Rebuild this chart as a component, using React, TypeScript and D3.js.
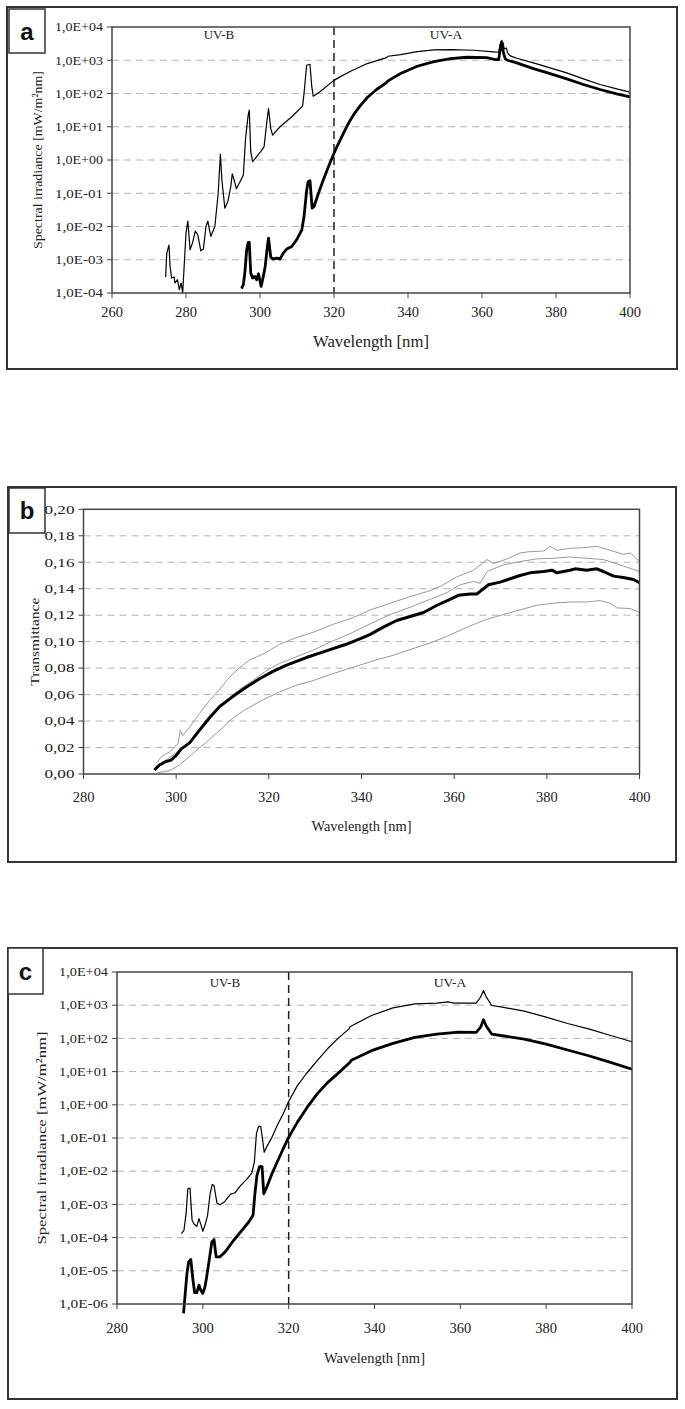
import React from 'react';
import * as d3 from 'd3';

const serif = '"Liberation Serif", "Times New Roman", serif';
const sans = '"Liberation Sans", Arial, sans-serif';

type Pt = [number, number];

// wavelength axis ticks
const ticksA = [260, 280, 300, 320, 340, 360, 380, 400];
const ticksBC = [280, 300, 320, 340, 360, 380, 400];
// decades (log10) shown on the irradiance axes
const decadesA = [-4, -3, -2, -1, 0, 1, 2, 3, 4];
const decadesC = [-6, -5, -4, -3, -2, -1, 0, 1, 2, 3, 4];
const transTicks = [0, 0.02, 0.04, 0.06, 0.08, 0.1, 0.12, 0.14, 0.16, 0.18, 0.2];

// panel a: [wavelength nm, log10 irradiance mW/m2nm]
const aThin: Pt[] = [
  [274.5, -3.52], [274.8, -2.8], [275.4, -2.56], [275.7, -3.2], [276.1, -3.55], [276.8, -3.52],
  [277.0, -3.7], [277.7, -3.6], [278.2, -3.9], [278.7, -3.7], [279.1, -4.0], [280.0, -2.2],
  [280.5, -1.84], [281.1, -2.7], [281.8, -2.48], [282.5, -2.14], [283.2, -2.25], [284.0, -2.73],
  [284.7, -2.68], [285.4, -2.0], [285.9, -1.84], [286.7, -2.3], [287.8, -2.0], [288.7, -1.0],
  [289.3, 0.18], [289.7, -0.6], [290.5, -1.45], [291.3, -1.25], [292.1, -0.8], [292.5, -0.42],
  [293.1, -0.64], [293.6, -0.86], [294.4, -0.7], [295.5, -0.45], [296.1, 0.65], [296.8, 1.35],
  [297.1, 1.5], [297.5, 0.25], [298.0, -0.05], [299.1, 0.1], [300.4, 0.28], [301.1, 0.4],
  [301.8, 1.1], [302.3, 1.55], [302.9, 0.95], [303.4, 0.75], [305.4, 1.0], [308.6, 1.3],
  [311.5, 1.62], [311.9, 2.0], [312.6, 2.85], [313.5, 2.88], [314.0, 2.2], [314.4, 1.92],
  [316.2, 2.05], [319.8, 2.38], [321.6, 2.5], [324.5, 2.67], [329.0, 2.9], [334.2, 3.08],
  [334.6, 3.12], [338.0, 3.17], [342.5, 3.26], [347.0, 3.31], [351.5, 3.32], [357.8, 3.3],
  [363.1, 3.25], [364.5, 3.24], [364.9, 3.47], [365.3, 3.6], [365.7, 3.52], [366.0, 3.34],
  [366.6, 3.37], [366.9, 3.22], [367.5, 3.14], [369.4, 3.06], [373.9, 2.92], [378.4, 2.77],
  [382.9, 2.62], [387.4, 2.44], [391.9, 2.27], [396.4, 2.14], [400.0, 2.04],
];
const aThick: Pt[] = [
  [295.0, -3.87], [295.5, -3.75], [295.9, -3.4], [296.4, -2.7], [296.8, -2.48], [297.1, -2.48],
  [297.5, -3.4], [298.0, -3.55], [298.6, -3.5], [299.1, -3.6], [299.6, -3.42], [300.3, -3.8],
  [300.9, -3.5], [301.4, -3.2], [302.0, -2.6], [302.3, -2.35], [302.9, -2.92], [303.6, -2.98],
  [304.5, -2.95], [305.4, -2.98], [306.3, -2.8], [307.2, -2.68], [308.6, -2.6], [309.9, -2.4],
  [311.3, -2.1], [311.9, -1.7], [312.6, -0.92], [313.0, -0.65], [313.5, -0.62], [314.1, -1.45],
  [314.6, -1.4], [315.8, -1.0], [317.1, -0.6], [318.5, -0.2], [319.8, 0.15], [321.0, 0.45],
  [322.7, 0.84], [324.0, 1.12], [325.4, 1.38], [327.0, 1.62], [329.0, 1.88], [331.5, 2.12],
  [334.2, 2.33], [334.6, 2.38], [338.0, 2.6], [342.5, 2.82], [347.0, 2.96], [351.5, 3.05],
  [356.0, 3.09], [361.3, 3.08], [363.6, 3.02], [364.5, 3.02], [364.9, 3.32], [365.3, 3.54],
  [365.8, 3.22], [366.3, 3.04], [366.9, 3.0], [369.4, 2.92], [373.9, 2.75], [378.4, 2.6],
  [382.9, 2.44], [387.4, 2.27], [391.9, 2.12], [396.4, 1.99], [400.0, 1.9],
];

// panel b: [wavelength nm, transmittance]
const bMean: Pt[] = [
  [295.3, 0.003], [296.4, 0.0068], [297.7, 0.0093], [298.9, 0.0105], [300.0, 0.014], [301.1, 0.019],
  [302.9, 0.0235], [305.0, 0.033], [307.2, 0.0425], [309.4, 0.051], [312.2, 0.0585], [315.1, 0.0655],
  [318.0, 0.072], [320.9, 0.0775], [323.7, 0.082], [328.1, 0.088], [332.4, 0.093], [336.7, 0.098],
  [340.3, 0.103], [341.9, 0.1055], [344.7, 0.111], [347.6, 0.116], [350.5, 0.119], [353.4, 0.122],
  [356.3, 0.1275], [359.1, 0.132], [360.9, 0.135], [363.5, 0.136], [364.9, 0.136], [365.6, 0.138],
  [367.4, 0.143], [369.9, 0.145], [372.1, 0.1475], [374.2, 0.15], [376.4, 0.152], [379.3, 0.153],
  [381.1, 0.154], [382.2, 0.152], [385.0, 0.154], [386.1, 0.155], [388.6, 0.154], [390.8, 0.155],
  [392.2, 0.153], [394.4, 0.1495], [396.5, 0.1485], [398.7, 0.147], [400.0, 0.1445],
];
const bUpper: Pt[] = [
  [295.7, 0.008], [296.8, 0.013], [298.6, 0.0168], [300.4, 0.023], [300.9, 0.033], [301.4, 0.029],
  [302.9, 0.0355], [305.0, 0.0455], [307.2, 0.0555], [309.4, 0.064], [311.5, 0.073], [313.7, 0.0805],
  [315.8, 0.086], [318.7, 0.0905], [322.3, 0.098], [325.9, 0.103], [329.5, 0.107], [333.8, 0.113],
  [338.1, 0.118], [341.9, 0.124], [346.2, 0.129], [350.5, 0.134], [354.8, 0.1385], [357.7, 0.143],
  [360.6, 0.149], [364.2, 0.154], [367.1, 0.162], [368.5, 0.159], [371.4, 0.1625], [374.2, 0.167],
  [376.4, 0.168], [379.3, 0.1685], [380.7, 0.172], [382.2, 0.169], [385.0, 0.1705], [387.9, 0.171],
  [390.8, 0.172], [393.7, 0.169], [396.5, 0.166], [398.0, 0.167], [400.0, 0.1605],
];
const bMid: Pt[] = [
  [295.5, 0.0055], [297.8, 0.0105], [300.7, 0.018], [302.9, 0.024], [305.0, 0.034], [307.9, 0.0455],
  [310.8, 0.0555], [313.7, 0.064], [316.5, 0.0705], [319.4, 0.078], [322.3, 0.0835], [325.9, 0.0885],
  [329.5, 0.0935], [333.8, 0.1005], [338.1, 0.107], [341.9, 0.1135], [346.2, 0.1205], [350.5, 0.126],
  [354.8, 0.132], [358.4, 0.137], [361.3, 0.143], [364.2, 0.1455], [365.6, 0.144], [367.1, 0.153],
  [370.6, 0.158], [374.2, 0.1605], [377.8, 0.1625], [381.4, 0.163], [385.0, 0.164], [388.6, 0.163],
  [392.2, 0.162], [395.8, 0.158], [400.0, 0.153],
];
const bLower: Pt[] = [
  [296.0, 0.001], [298.6, 0.0025], [300.7, 0.0068], [303.6, 0.0155], [306.5, 0.024], [309.4, 0.033],
  [312.2, 0.042], [315.1, 0.049], [318.7, 0.056], [322.3, 0.062], [325.9, 0.067], [329.5, 0.0705],
  [333.1, 0.075], [336.7, 0.079], [340.3, 0.083], [343.9, 0.087], [346.2, 0.089], [350.5, 0.094],
  [354.8, 0.099], [358.4, 0.104], [363.5, 0.112], [367.1, 0.117], [370.6, 0.1205], [374.2, 0.124],
  [377.8, 0.1275], [381.4, 0.129], [385.0, 0.13], [388.6, 0.13], [391.5, 0.131], [393.7, 0.129],
  [395.1, 0.1255], [398.0, 0.125], [400.0, 0.122],
];

// panel c: [wavelength nm, log10 irradiance mW/m2nm]
const cThin: Pt[] = [
  [295.0, -3.88], [295.6, -3.78], [296.1, -3.28], [296.5, -2.53], [297.0, -2.51], [297.5, -3.48],
  [298.0, -3.6], [298.6, -3.66], [299.1, -3.43], [299.6, -3.63], [300.0, -3.81], [300.5, -3.63],
  [301.1, -3.33], [301.7, -2.68], [302.2, -2.4], [302.6, -2.43], [303.3, -2.96], [304.0, -3.01],
  [305.0, -2.93], [306.4, -2.7], [307.5, -2.65], [308.7, -2.45], [310.3, -2.23], [311.4, -2.06],
  [312.0, -1.73], [312.5, -0.86], [313.0, -0.65], [313.5, -0.65], [313.9, -1.03], [314.3, -1.43],
  [314.9, -1.26], [316.1, -0.98], [317.3, -0.63], [318.7, -0.28], [320.0, 0.1], [322.0, 0.57],
  [324.0, 0.92], [326.6, 1.32], [329.0, 1.68], [331.5, 2.0], [334.0, 2.28], [334.3, 2.35],
  [339.3, 2.69], [344.3, 2.92], [349.4, 3.04], [354.5, 3.06], [357.1, 3.1], [358.6, 3.06],
  [363.7, 3.06], [364.7, 3.24], [365.4, 3.44], [366.0, 3.26], [367.3, 2.99], [369.8, 2.94],
  [374.9, 2.82], [380.0, 2.64], [385.0, 2.45], [390.1, 2.28], [395.2, 2.08], [400.0, 1.9],
];
const cThick: Pt[] = [
  [295.5, -6.28], [295.9, -5.68], [296.3, -5.08], [296.7, -4.73], [297.2, -4.66], [297.7, -5.28],
  [298.1, -5.66], [298.6, -5.66], [299.1, -5.43], [299.5, -5.58], [300.0, -5.68], [300.5, -5.48],
  [300.9, -5.18], [301.6, -4.58], [302.1, -4.13], [302.6, -4.06], [303.1, -4.58], [304.0, -4.58],
  [305.2, -4.43], [307.2, -4.08], [309.1, -3.78], [310.7, -3.53], [311.7, -3.33], [312.1, -2.73],
  [312.6, -2.13], [313.2, -1.86], [313.8, -1.86], [314.2, -2.68], [314.9, -2.48], [316.1, -2.08],
  [317.3, -1.73], [318.7, -1.33], [320.0, -0.98], [322.0, -0.53], [324.3, -0.08], [326.6, 0.32],
  [329.0, 0.66], [331.7, 0.97], [334.3, 1.28], [334.6, 1.34], [339.3, 1.63], [344.3, 1.85],
  [349.4, 2.03], [354.5, 2.13], [359.6, 2.19], [363.7, 2.18], [364.7, 2.33], [365.4, 2.56],
  [366.0, 2.38], [367.3, 2.13], [369.8, 2.08], [374.9, 1.98], [380.0, 1.83], [385.0, 1.65],
  [390.1, 1.47], [395.2, 1.27], [400.0, 1.07],
];

const expLabel = (e: number) => `1,0E${e < 0 ? '-' : '+'}${String(Math.abs(e)).padStart(2, '0')}`;
const commaLabel = (v: number) => d3.format('.2f')(v).replace('.', ',');

type FrameProps = {
  box: [number, number, number, number];
  tag: [number, number, number, number];
  letter: string;
  x: d3.ScaleLinear<number, number>;
  y: (v: number) => number;
  xTicks: number[];
  yTicks: number[];
  gridTicks: number[];
  yText: (v: number) => string;
  yLabLen: number;
  xLabDy: number;
  xTitleY: number;
  xTitleLen: number;
  xTitleSize: number;
  yTitle: string;
  yTitleX: number;
  yTitleLen: number;
  children?: React.ReactNode;
};

function Frame(p: FrameProps) {
  const [x0, x1] = p.x.range();
  const yb = p.y(p.yTicks[0]);
  const yt = p.y(p.yTicks[p.yTicks.length - 1]);
  const [bx, by, bw, bh] = p.box;
  const [tx, ty, tw, th] = p.tag;
  return (
    <g>
      <rect x={bx} y={by} width={bw} height={bh} fill="#fff" stroke="#333" strokeWidth={2} />
      <rect x={tx} y={ty} width={tw} height={th} fill="#fff" stroke="#333" strokeWidth={1.5} />
      <text x={tx + tw / 2} y={ty + th / 2} dy="0.36em" textAnchor="middle" fontFamily={sans}
        fontWeight="bold" fontSize={24} fill="#111">{p.letter}</text>
      {p.gridTicks.map(v => (
        <line key={'g' + v} x1={x0} x2={x1} y1={p.y(v)} y2={p.y(v)} stroke="#b4b4b4"
          strokeWidth={1} strokeDasharray="7,5" />
      ))}
      {p.children}
      <rect x={x0} y={yt} width={x1 - x0} height={yb - yt} fill="none" stroke="#444" strokeWidth={1.5} />
      {p.yTicks.map(v => (
        <g key={'y' + v}>
          <line x1={x0 - 5} x2={x0} y1={p.y(v)} y2={p.y(v)} stroke="#444" strokeWidth={1} />
          <text x={x0 - 9} y={p.y(v)} dy="0.33em" textAnchor="end" fontFamily={serif} fontSize={13}
            textLength={p.yLabLen} lengthAdjust="spacingAndGlyphs" fill="#222">{p.yText(v)}</text>
        </g>
      ))}
      {p.xTicks.map(v => (
        <g key={'x' + v}>
          <line x1={p.x(v)} x2={p.x(v)} y1={yb} y2={yb + 5} stroke="#444" strokeWidth={1} />
          <text x={p.x(v)} y={yb + p.xLabDy} textAnchor="middle" fontFamily={serif} fontSize={14.5}
            fill="#222">{v}</text>
        </g>
      ))}
      <text x={(x0 + x1) / 2} y={p.xTitleY} textAnchor="middle" fontFamily={serif} fontSize={p.xTitleSize}
        textLength={p.xTitleLen} lengthAdjust="spacingAndGlyphs" fill="#222">Wavelength [nm]</text>
      <text transform={`translate(${p.yTitleX},${(yt + yb) / 2}) rotate(-90)`} textAnchor="middle"
        dy="0.35em" fontFamily={serif} fontSize={13.5} textLength={p.yTitleLen}
        lengthAdjust="spacingAndGlyphs" fill="#222">{p.yTitle}</text>
    </g>
  );
}

function PanelA() {
  const x = d3.scaleLinear().domain([260, 400]).range([112, 630]);
  const y = d3.scaleLog().domain([1e-4, 1e4]).range([293, 27]);
  const ly = (v: number) => y(10 ** v);
  const line = d3.line<Pt>().x(d => x(d[0])).y(d => y(10 ** d[1]));
  return (
    <Frame box={[7, 7, 670, 362]} tag={[9, 9, 36, 44]} letter="a" x={x} y={ly}
      xTicks={ticksA} yTicks={decadesA} gridTicks={decadesA.slice(1, -1)} yText={expLabel} yLabLen={48}
      xLabDy={24} xTitleY={347} xTitleLen={116} xTitleSize={16}
      yTitle="Spectral irradiance [mW/m²nm]" yTitleX={37} yTitleLen={178}>
      <line x1={x(320)} x2={x(320)} y1={27} y2={293} stroke="#222" strokeWidth={1.5} strokeDasharray="8,5" />
      <path d={line(aThin) ?? ''} fill="none" stroke="#000" strokeWidth={1.2} strokeLinejoin="round" />
      <path d={line(aThick) ?? ''} fill="none" stroke="#000" strokeWidth={2.8} strokeLinejoin="round" />
      <text x={219} y={39} textAnchor="middle" fontFamily={serif} fontSize={13} fill="#222">UV-B</text>
      <text x={446} y={39} textAnchor="middle" fontFamily={serif} fontSize={13.5} fill="#222">UV-A</text>
    </Frame>
  );
}

function PanelB() {
  const x = d3.scaleLinear().domain([280, 400]).range([83.5, 639.5]);
  const y = d3.scaleLinear().domain([0, 0.2]).range([774, 509.3]);
  const line = d3.line<Pt>().x(d => x(d[0])).y(d => y(d[1]));
  const grays = [bUpper, bMid, bLower];
  return (
    <Frame box={[8, 487, 668, 375]} tag={[9, 488, 36, 45]} letter="b" x={x} y={y}
      xTicks={ticksBC} yTicks={transTicks} gridTicks={transTicks.slice(1, -1)} yText={commaLabel}
      yLabLen={30} xLabDy={28} xTitleY={831} xTitleLen={100} xTitleSize={14.5}
      yTitle="Transmittance" yTitleX={34} yTitleLen={88}>
      {grays.map((s, i) => (
        <path key={i} d={line(s) ?? ''} fill="none" stroke="#9a9a9a" strokeWidth={1} />
      ))}
      <path d={line(bMean) ?? ''} fill="none" stroke="#000" strokeWidth={3} strokeLinejoin="round" />
    </Frame>
  );
}

function PanelC() {
  const x = d3.scaleLinear().domain([280, 400]).range([117, 632]);
  const y = d3.scaleLog().domain([1e-6, 1e4]).range([1304, 972]);
  const ly = (v: number) => y(10 ** v);
  const line = d3.line<Pt>().x(d => x(d[0])).y(d => y(10 ** d[1]));
  return (
    <Frame box={[8, 948, 669, 451]} tag={[8, 948, 35, 46]} letter="c" x={x} y={ly}
      xTicks={ticksBC} yTicks={decadesC} gridTicks={decadesC.slice(1, -1)} yText={expLabel} yLabLen={49}
      xLabDy={29} xTitleY={1363} xTitleLen={101} xTitleSize={15}
      yTitle="Spectral irradiance [mW/m²nm]" yTitleX={41} yTitleLen={213}>
      <line x1={x(320)} x2={x(320)} y1={972} y2={1304} stroke="#222" strokeWidth={1.5} strokeDasharray="8,5" />
      <path d={line(cThin) ?? ''} fill="none" stroke="#000" strokeWidth={1.2} strokeLinejoin="round" />
      <path d={line(cThick) ?? ''} fill="none" stroke="#000" strokeWidth={2.8} strokeLinejoin="round" />
      <text x={225} y={987} textAnchor="middle" fontFamily={serif} fontSize={13} fill="#222">UV-B</text>
      <text x={450} y={987} textAnchor="middle" fontFamily={serif} fontSize={13.5} fill="#222">UV-A</text>
    </Frame>
  );
}

export default function App() {
  return (
    <div style={{ position: 'absolute', left: 0, top: 0 }}>
      <svg width={685} height={1409} style={{ display: 'block', background: '#fff' }}>
        <PanelA />
        <PanelB />
        <PanelC />
      </svg>
    </div>
  );
}
